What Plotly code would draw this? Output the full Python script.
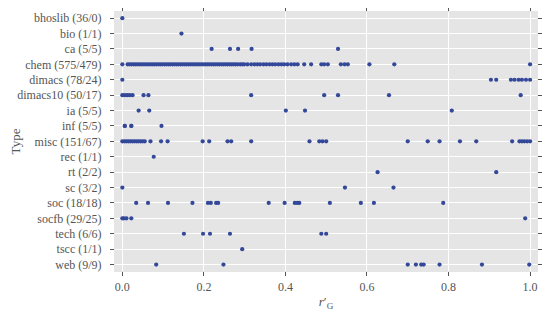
import plotly.graph_objects as go

# graph types with (count / unique) as shown on the y axis
types = ["bhoslib", "bio", "ca", "chem", "dimacs", "dimacs10", "ia", "inf", "misc",
         "rec", "rt", "sc", "soc", "socfb", "tech", "tscc", "web"]
counts = ["36/0", "1/1", "5/5", "575/479", "78/24", "50/17", "5/5", "5/5", "151/67",
          "1/1", "2/2", "3/2", "18/18", "29/25", "6/6", "1/1", "9/9"]

# r'_G values, one list per type
bhoslib = [0.0]
bio = [0.145]
ca = [0.219, 0.264, 0.284, 0.317, 0.529]
chem = [0.0,
        0.013, 0.018, 0.023, 0.028, 0.033, 0.038, 0.043, 0.048, 0.053, 0.058,
        0.063, 0.068, 0.073, 0.078, 0.083, 0.088, 0.093, 0.098, 0.103, 0.108,
        0.113, 0.118, 0.123, 0.128, 0.133, 0.138, 0.143, 0.148, 0.153, 0.158,
        0.163, 0.168, 0.173, 0.178, 0.183, 0.188, 0.193, 0.198, 0.203, 0.208,
        0.213, 0.218, 0.223, 0.228, 0.233, 0.238, 0.243, 0.248, 0.253, 0.258,
        0.263, 0.268, 0.273, 0.278, 0.283, 0.289,
        0.294, 0.299, 0.307, 0.316, 0.324, 0.331, 0.338, 0.346, 0.353, 0.361,
        0.368, 0.375, 0.383, 0.390, 0.397, 0.405, 0.414, 0.422, 0.430, 0.446,
        0.463, 0.488, 0.495, 0.504, 0.536, 0.545, 0.553, 0.606, 0.667, 1.0]
dimacs = [0.0, 0.904, 0.917, 0.953, 0.962, 0.972, 0.98, 0.99, 1.0]
dimacs10 = [0.0, 0.006, 0.012, 0.018, 0.025, 0.052, 0.064, 0.316, 0.495, 0.529,
            0.654, 0.977]
ia = [0.040, 0.066, 0.401, 0.448, 0.808]
inf = [0.006, 0.006, 0.022, 0.022, 0.096]
misc = [0.0, 0.005, 0.01, 0.015, 0.02, 0.025, 0.03, 0.035, 0.04, 0.045, 0.05,
        0.055, 0.069, 0.095, 0.111, 0.197, 0.213, 0.258, 0.267, 0.316, 0.459,
        0.483, 0.491, 0.5, 0.700, 0.749, 0.778, 0.828, 0.868, 0.956, 0.974,
        0.98, 0.986, 0.993, 1.0]
rec = [0.077]
rt = [0.626, 0.917]
sc = [0.0, 0.546, 0.665]
soc = [0.034, 0.063, 0.112, 0.172, 0.21, 0.217, 0.23, 0.235, 0.359, 0.398,
       0.423, 0.429, 0.434, 0.509, 0.585, 0.617, 0.787]
socfb = [0.0, 0.004, 0.01, 0.022, 0.988]
tech = [0.151, 0.198, 0.215, 0.264, 0.488, 0.5]
tscc = [0.294]
web = [0.083, 0.248, 0.700, 0.720, 0.733, 0.739, 0.778, 0.882, 0.998]

values = [bhoslib, bio, ca, chem, dimacs, dimacs10, ia, inf, misc,
          rec, rt, sc, soc, socfb, tech, tscc, web]

labels = [f"{t} ({c})" for t, c in zip(types, counts)]

xs, ys = [], []
for lab, vals in zip(labels, values):
    xs += vals
    ys += [lab] * len(vals)

font = "Liberation Serif"

fig = go.Figure(go.Scatter(
    x=xs, y=ys, mode="markers",
    marker=dict(color="#34489a", size=4.2, line=dict(width=0)),
    hoverinfo="x+y",
))

# page body has an 8px margin, so the figure is sized to fit the 550x314 window
fig.update_layout(
    width=542, height=306,
    margin=dict(l=107, r=13, t=4, b=43),
    paper_bgcolor="white", plot_bgcolor="#e5e5e5",
    font=dict(family=font, size=12, color="#555555"),
    showlegend=False,
)
fig.update_xaxes(
    range=[-0.018, 1.017], tickvals=[0, 0.2, 0.4, 0.6, 0.8, 1.0],
    tickformat=".1f", showgrid=True, gridcolor="white", gridwidth=1,
    zeroline=False, ticks="outside", ticklen=4, tickcolor="#555555",
    mirror="ticks", showline=True, linecolor="#e5e5e5", linewidth=1,
    ticklabelstandoff=1, automargin=False,
    title=dict(text="<i>r</i>′<sub>G</sub>", standoff=3,
               font=dict(family=font, size=13, color="#555555")),
)
fig.update_yaxes(
    type="category", categoryorder="array", categoryarray=labels,
    range=[16.42, -0.4], showgrid=True, gridcolor="white", gridwidth=1,
    zeroline=False, ticks="outside", ticklen=4, tickcolor="#555555",
    mirror="ticks", showline=True, linecolor="#e5e5e5", linewidth=1,
    ticklabelstandoff=6, automargin=False,
    title=dict(text="Type", standoff=6,
               font=dict(family=font, size=13, color="#555555")),
)

fig.write_html("out.html")
